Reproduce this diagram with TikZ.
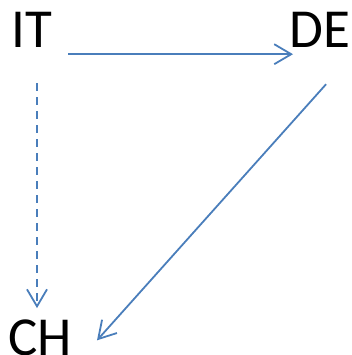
\documentclass[tikz,border=0pt]{standalone}
\usepackage{fontspec}
\setmainfont{Carlito}
\usepackage{xcolor}
\usetikzlibrary{arrows.meta}
\definecolor{linkblue}{HTML}{4A7EBB}
\tikzset{
  country/.style={
    inner sep=0pt,
    anchor=base west,
    font=\fontsize{55}{62}\selectfont,
  },
  link/.style={
    draw=linkblue,
    line width=1.8pt,
    -{Straight Barb[length=17pt,width=20pt,line width=1.8pt]},
  },
  weak link/.style={
    link,
    dash pattern=on 8pt off 6pt,
  }
}

\begin{document}
\begin{tikzpicture}[x=1pt,y=-1pt]
    \useasboundingbox (0,0) rectangle (351,355);

    \node [country] (it) at (11,48) {IT};
    \node [country] (de) at (289,48) {DE};
    \node [country] (ch) at (8,355) {CH};

    \draw [link] ([shift={(16,6)}]it.south east) -- ([shift={(4,6)}]de.south west);
    \draw [weak link] ([shift={(26,35)}]it.south west) -- ([shift={(29,-11)}]ch.north west);
    \draw [link] ([shift={(-24,36)}]de.south east) -- ([shift={(25,3)}]ch.east);
\end{tikzpicture}
\end{document}
